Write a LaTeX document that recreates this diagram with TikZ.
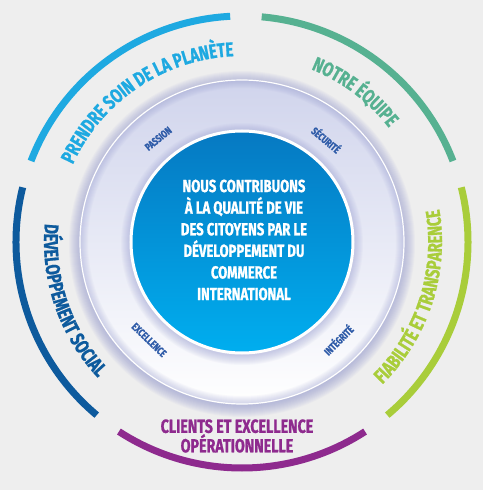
\documentclass[tikz,border=0pt]{standalone}
\usepackage{fontspec}
\newfontfamily\condfont{Fira Sans}[FakeStretch=0.75,FakeBold=1]
\usetikzlibrary{decorations.text}

\definecolor{bggray}{HTML}{EEEEEE}
\definecolor{planetcol}{HTML}{1EA9E1}
\definecolor{equipecol}{HTML}{56B191}
\definecolor{fiabcol}{HTML}{A9CD3A}
\definecolor{clientcol}{HTML}{8E2A8E}
\definecolor{socialcol}{HTML}{0D5A9D}
\definecolor{valuecol}{HTML}{2E5BA8}
\definecolor{ringtop}{HTML}{D0D4EC}
\definecolor{glow}{HTML}{8C92CC}
\definecolor{coretop}{HTML}{0679C2}
\definecolor{corebot}{HTML}{00AEEF}

\newcommand\arcfont{\condfont\bfseries\fontsize{20}{20}\selectfont}

\begin{document}
\begin{tikzpicture}[x=1pt,y=1pt,
  pillar/.style={line width=7pt,line cap=butt},
  arctext/.style={decorate,decoration={text along path,text align=center,text={#1}}},
  value/.style={text=valuecol,font=\condfont\bfseries\fontsize{10.5}{10.5}\selectfont,inner sep=0pt}]

\useasboundingbox (-242,-248) rectangle (241,242);
\fill[bggray] (-242,-248) rectangle (241,242);

\foreach \i in {1,...,12}
  \fill[glow,opacity=0.06] (0,-2) circle (161+\i);
\fill[top color=ringtop,bottom color=white] (0,0) circle (162);
\foreach \i in {1,...,8}
  \draw[glow,opacity=0.05,line width=\i pt] (0,0) circle (162-\i/2);
\draw[white,line width=1.2pt] (0,0) circle (162);

\foreach \i in {1,...,10}
  \fill[glow,opacity=0.05] (0,-2) circle (111+\i);

\node (core) [circle,draw=white,line width=3pt,minimum size=222,
  top color=coretop,bottom color=corebot] at (0,0) {};
\node (mission) [align=center,text=white,
  font=\condfont\bfseries\fontsize{17.5}{21.6}\selectfont] at (2,2)
  {NOUS CONTRIBUONS\\À LA QUALITÉ DE VIE\\DES CITOYENS PAR LE\\DÉVELOPPEMENT DU\\COMMERCE\\INTERNATIONAL};

\node (passion) [value,rotate=39] at (129:133) {PASSION};
\node (securite) [value,rotate=-40] at (50.5:133) {SÉCURITÉ};
\node (excellence) [value,rotate=-44] at (226.5:135) {EXCELLENCE};
\node (integrite) [value,rotate=45] at (-45.5:137) {INTÉGRITÉ};

\draw[pillar,planetcol] (93:226) arc[start angle=93,end angle=159,radius=226];
\draw[pillar,equipecol] (21:226) arc[start angle=21,end angle=85,radius=226];
\draw[pillar,fiabcol] (-50:226) arc[start angle=-50,end angle=14,radius=226];
\draw[pillar,clientcol] (-123:226) arc[start angle=-123,end angle=-57,radius=226];
\draw[pillar,socialcol] (166:226) arc[start angle=166,end angle=230,radius=226];

\path[arctext=|\arcfont\color{planetcol}|PRENDRE SOIN DE LA PLANÈTE]
  (159:186) arc[start angle=159,end angle=89,radius=186];
\path[arctext=|\arcfont\color{equipecol}|NOTRE ÉQUIPE]
  (85:186) arc[start angle=85,end angle=21,radius=186];
\path[arctext=|\arcfont\color{fiabcol}|FIABILITÉ ET TRANSPARENCE]
  (-50:200) arc[start angle=-50,end angle=14,radius=200];
\path[arctext=|\arcfont\color{socialcol}|DÉVELOPPEMENT SOCIAL]
  (166:198) arc[start angle=166,end angle=232,radius=198];

\node (clients) [align=center,text=clientcol,font=\condfont\bfseries\fontsize{19}{18}\selectfont]
  at (-5,-194) {CLIENTS ET EXCELLENCE\\OPÉRATIONNELLE};

\end{tikzpicture}
\end{document}
